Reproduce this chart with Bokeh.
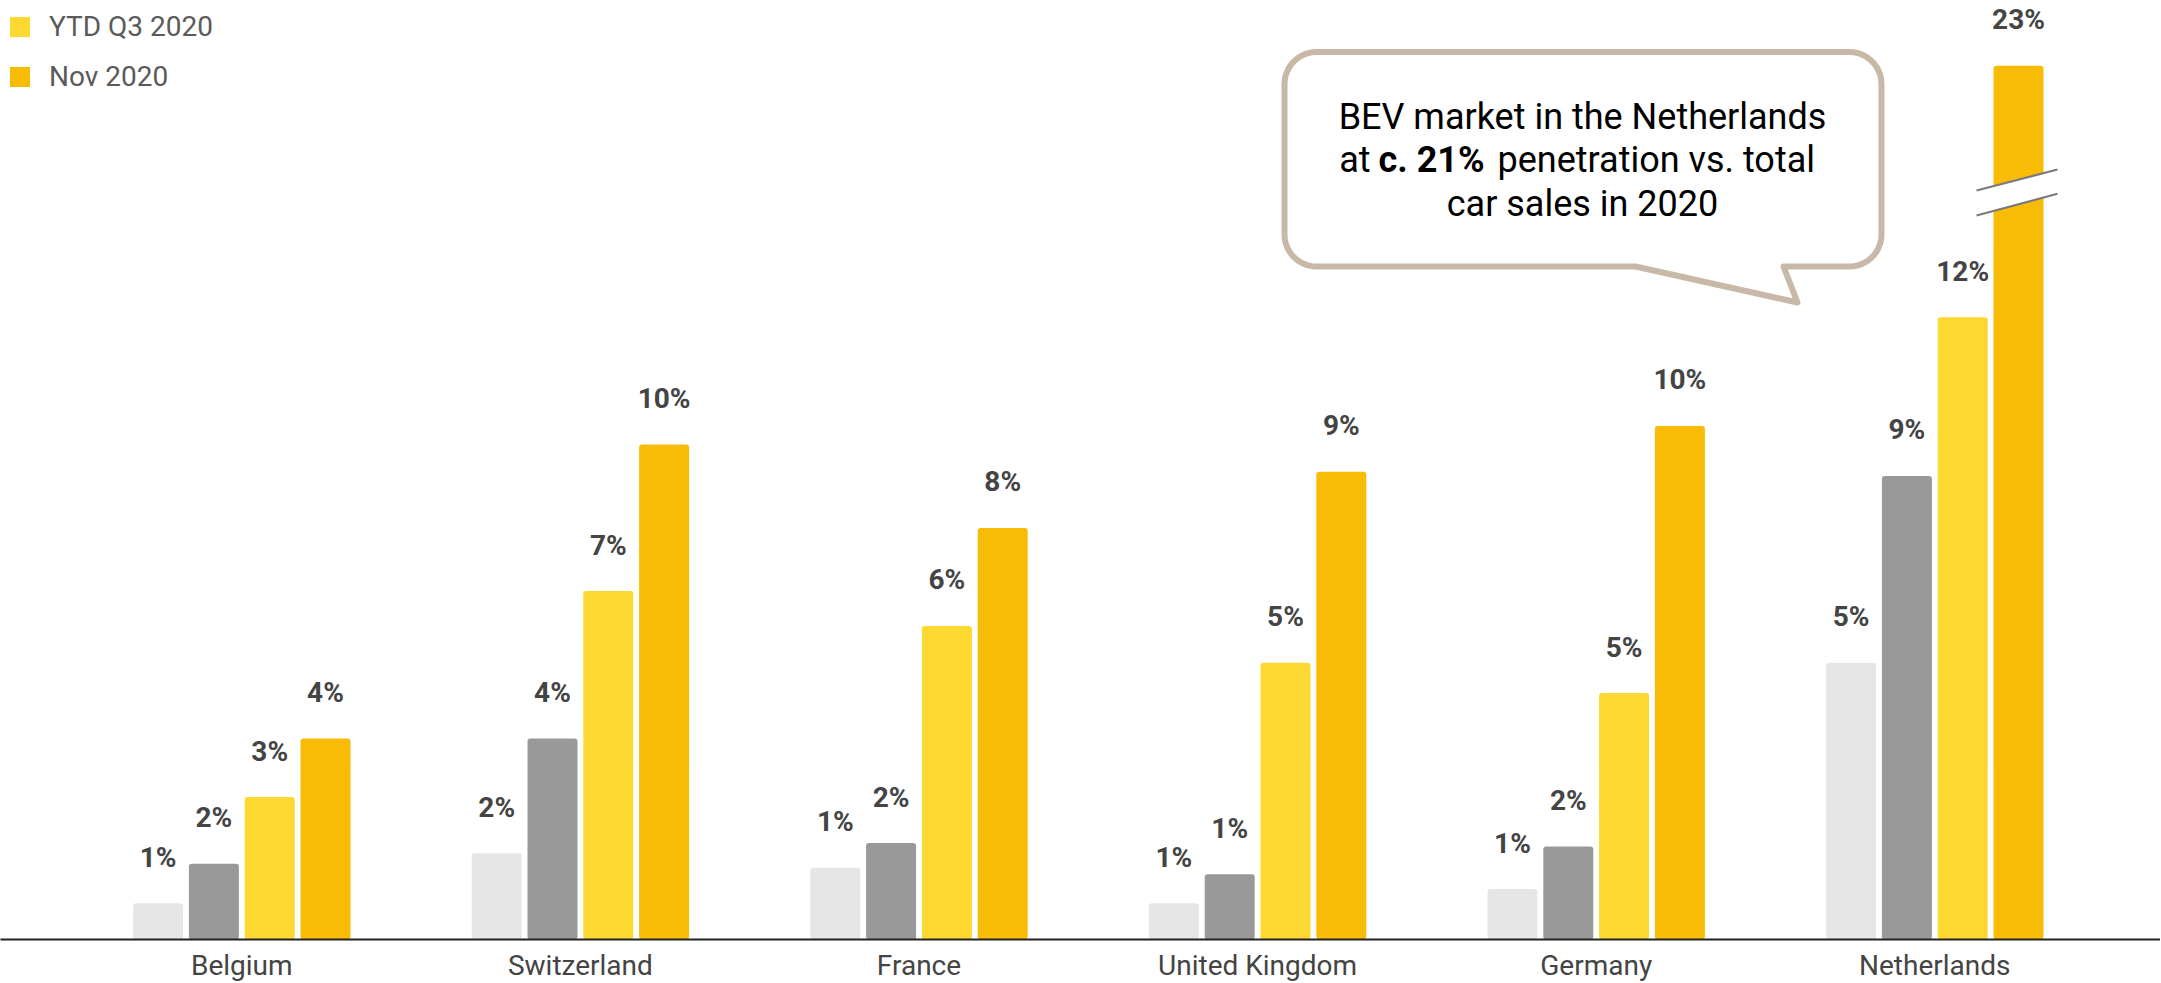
import numpy as np
from bokeh.plotting import figure
from bokeh.models import Range1d, Legend, LegendItem, FixedTicker, LinearAxis
from bokeh.core.properties import value
from bokeh.embed import file_html
from bokeh.resources import INLINE

# ---------------- data ----------------
countries = ["Belgium", "Switzerland", "France", "United Kingdom", "Germany", "Netherlands"]
series_names = ["Series A", "Series B", "YTD Q3 2020", "Nov 2020"]
series_a = [0.72, 1.71, 1.42, 0.72, 1.00, 5.48]
series_b = [1.50, 3.98, 1.91, 1.29, 1.84, 9.18]
ytd_q3_2020 = [2.82, 6.90, 6.21, 5.48, 4.88, 12.32]
nov_2020 = [3.98, 9.80, 8.15, 9.26, 10.17, 23.0]
labels_a = ["1%", "2%", "1%", "1%", "1%", "5%"]
labels_b = ["2%", "4%", "2%", "1%", "2%", "9%"]
labels_ytd = ["3%", "7%", "6%", "5%", "5%", "12%"]
labels_nov = ["4%", "10%", "8%", "9%", "10%", "23%"]
colors = ["#E6E6E6", "#999999", "#FDD830", "#F9BC06"]
BREAK_CAP = 17.3  # bars above this are drawn truncated with an axis break

# ---------------- layout ----------------
FW = 2160
FRAME_H = 939
PX_X = 338.6       # px per category
CENTER0 = 241.3    # px of first group centre
PX_Y = 50.5        # px per percentage point
STEP = 55.8 / PX_X
BAR_W = 50.0 / PX_X
TXT_SHIFT = 11     # px correction for text baseline placement

x0 = -CENTER0 / PX_X
x1 = (FW - CENTER0) / PX_X


def px2x(px):
    return (px - CENTER0) / PX_X


def py2y(py):
    return (FRAME_H - py) / PX_Y


p = figure(frame_width=FW, frame_height=FRAME_H, x_range=Range1d(x0, x1),
           y_range=Range1d(0, FRAME_H / PX_Y),
           output_backend="svg", toolbar_location=None,
           min_border_left=0, min_border_right=0, min_border_top=0,
           min_border_bottom=0, x_axis_type=None, y_axis_type=None)
p.outline_line_color = None
p.background_fill_color = "white"
p.border_fill_color = "white"

xaxis = LinearAxis(ticker=FixedTicker(ticks=list(range(len(countries)))),
                   major_label_overrides={i: c for i, c in enumerate(countries)})
xaxis.axis_line_color = "#222222"
xaxis.axis_line_width = 2
xaxis.major_tick_line_color = None
xaxis.minor_tick_line_color = None
xaxis.major_tick_out = 0
xaxis.major_tick_in = 0
xaxis.minor_tick_out = 0
xaxis.minor_tick_in = 0
xaxis.major_label_text_font = "Roboto"
xaxis.major_label_text_font_size = "28px"
xaxis.major_label_text_color = "#444444"
xaxis.major_label_standoff = 9
p.add_layout(xaxis, "below")

all_series = [series_a, series_b, ytd_q3_2020, nov_2020]
all_labels = [labels_a, labels_b, labels_ytd, labels_nov]
renderers = []
for j, (vals, labs, col) in enumerate(zip(all_series, all_labels, colors)):
    xs = [i + (j - 1.5) * STEP for i in range(len(countries))]
    tops = [min(v, BREAK_CAP) for v in vals]
    r = p.vbar(x=xs, top=tops, bottom=0, width=BAR_W, fill_color=col, line_color=None,
               border_radius=3)
    renderers.append(r)
    p.text(x=xs, y=tops, text=labs, text_align="center", text_baseline="alphabetic",
           y_offset=-46, text_font=value("Roboto"), text_font_style="bold",
           text_font_size="28px", text_color="#444444")

# axis break on truncated bars
for j, vals in enumerate(all_series):
    for i, v in enumerate(vals):
        if v > BREAK_CAP:
            bx = i + (j - 1.5) * STEP
            xl = bx - BAR_W / 2 - 17 / PX_X
            xr = bx + BAR_W / 2 + 14 / PX_X
            y1l, y1r = py2y(190), py2y(169)
            y2l, y2r = py2y(215), py2y(193.3)
            p.patch([xl, xr, xr, xl], [y1l, y1r, y2r, y2l], fill_color="white", line_color=None)
            p.line([xl, xr], [y1l, y1r], line_color="#7A7A7A", line_width=2)
            p.line([xl, xr], [y2l, y2r], line_color="#7A7A7A", line_width=2)

# speech bubble
L, R, T, B, rad = 1284.0, 1881.0, 51.5, 266.0, 32.0
pts = []


def arc(cx, cy, a0, a1):
    for a in np.linspace(np.radians(a0), np.radians(a1), 12):
        pts.append((cx + rad * np.cos(a), cy + rad * np.sin(a)))


arc(R - rad, T + rad, -90, 0)
arc(R - rad, B - rad, 0, 90)
pts.append((1783, B))
pts.append((1797, 302))
pts.append((1635, B))
arc(L + rad, B - rad, 90, 180)
arc(L + rad, T + rad, 180, 270)
bx_ = [px2x(a) for a, b in pts]
by_ = [py2y(b) for a, b in pts]
p.patch(bx_, by_, fill_color="white", line_color="#C8B8A8", line_width=6, line_join="round")

txt_kw = dict(text_font=value("Roboto"), text_font_size="36px", text_color="#000000",
              text_baseline="alphabetic")
p.text(x=[px2x(1582)], y=[py2y(127 - TXT_SHIFT)], text=["BEV market in the Netherlands"], text_align="center", **txt_kw)
p.text(x=[px2x(1370)], y=[py2y(170 - TXT_SHIFT)], text=["at"], text_align="right", **txt_kw)
p.text(x=[px2x(1378)], y=[py2y(170 - TXT_SHIFT)], text=["c. 21%"], text_align="left", text_font_style="bold", **txt_kw)
p.text(x=[px2x(1497)], y=[py2y(170 - TXT_SHIFT)], text=["penetration vs. total"], text_align="left", **txt_kw)
p.text(x=[px2x(1582)], y=[py2y(214 - TXT_SHIFT)], text=["car sales in 2020"], text_align="center", **txt_kw)

legend = Legend(items=[LegendItem(label=series_names[2], renderers=[renderers[2]]),
                       LegendItem(label=series_names[3], renderers=[renderers[3]])],
                location=(7, FRAME_H - 93), orientation="vertical",
                glyph_width=25, glyph_height=25, label_height=25, spacing=17,
                padding=0, margin=0, border_line_color=None, background_fill_alpha=0,
                label_text_font="Roboto", label_text_font_size="28px",
                label_text_color="#5A5A5A", label_standoff=17)
p.add_layout(legend)

open("out.html", "w").write(file_html(p, INLINE))
